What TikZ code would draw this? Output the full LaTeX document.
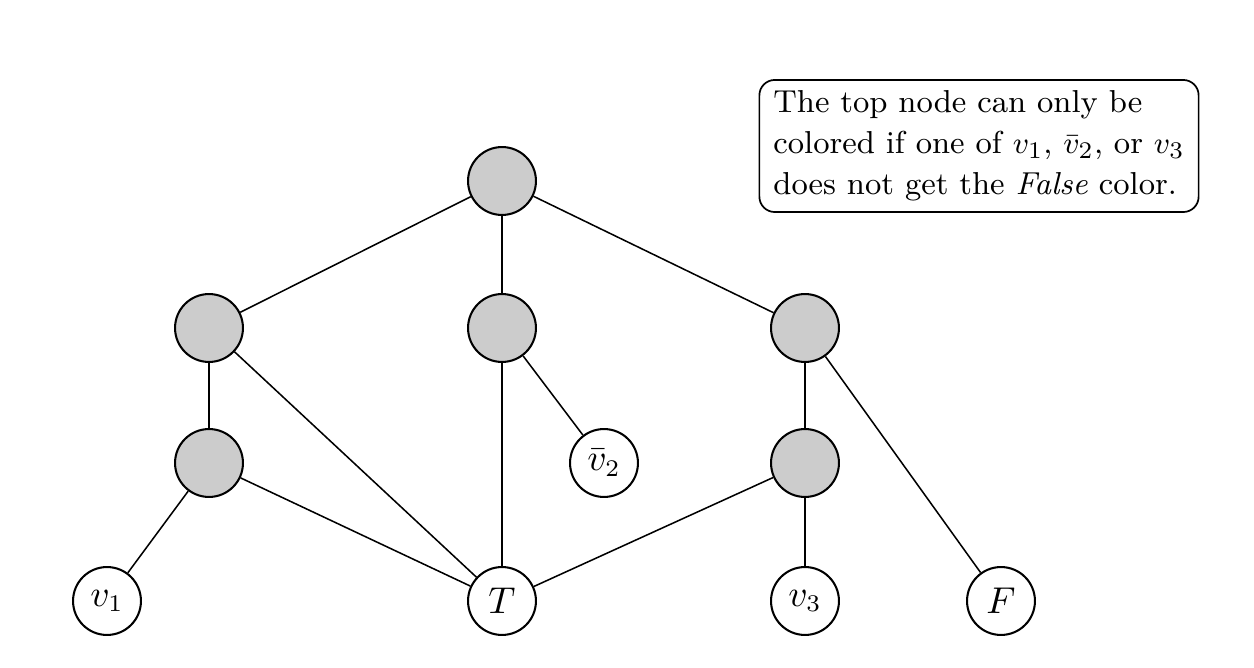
\documentclass[tikz,border=0pt]{standalone}
\usetikzlibrary{positioning}
\tikzset{
  vtx/.style={draw,circle,line width=0.6pt,minimum size=19.9pt,inner sep=0pt,fill=black!20},
  lit/.style={draw,circle,line width=0.6pt,minimum size=19.9pt,inner sep=0pt,fill=white,
    font=\fontsize{10.5}{12}\selectfont},
  edge/.style={line width=0.45pt},
  note/.style={draw,rounded corners=4.5pt,line width=0.5pt,align=left,inner xsep=4.1pt,
    inner ysep=3pt,font=\fontsize{9.3}{12}\selectfont},
}
\begin{document}
\begin{tikzpicture}[x=0.293pt,y=-0.293pt]
  \useasboundingbox (0,0) rectangle (1254,668);

  % gadget nodes
  \node[vtx] (top) at (502,181) {};
  \node[vtx] (l1) at (209,328) {};
  \node[vtx] (m1) at (502,328) {};
  \node[vtx] (r1) at (805,328) {};
  \node[vtx] (l2) at (209,463) {};
  \node[vtx] (r2) at (805,463) {};

  % literal and palette nodes
  \node[lit] (nv2) at (604,463) {$\bar{v}_2$};
  \node[lit] (v1) at (107,601) {$v_1$};
  \node[lit] (t) at (502,601) {$T$};
  \node[lit] (v3) at (805,601) {$v_3$};
  \node[lit] (f) at (1001,601) {$F$};

  \draw[edge] (top) -- (l1);
  \draw[edge] (top) -- (m1);
  \draw[edge] (top) -- (r1);
  \draw[edge] (l1) -- (l2);
  \draw[edge] (l1) -- (t);
  \draw[edge] (m1) -- (t);
  \draw[edge] (m1) -- (nv2);
  \draw[edge] (r1) -- (r2);
  \draw[edge] (r1) -- (f);
  \draw[edge] (l2) -- (v1);
  \draw[edge] (l2) -- (t);
  \draw[edge] (r2) -- (t);
  \draw[edge] (r2) -- (v3);

  \node[note,minimum height=38.7pt] (cap) at (979,146)
    {The top node can only be\\colored if one of $v_1$, $\bar{v}_2$, or $v_3$\\does not get the \emph{False} color.};
\end{tikzpicture}
\end{document}
